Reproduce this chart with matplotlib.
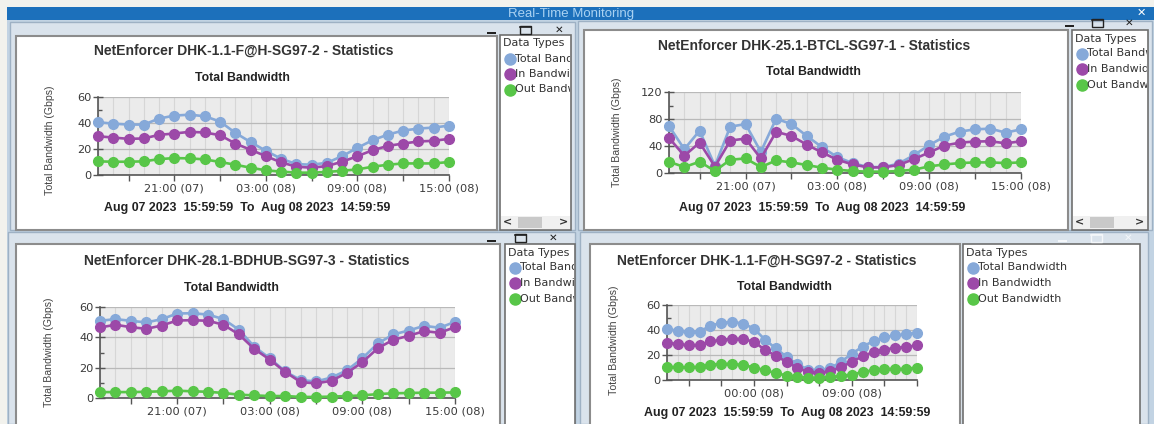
import numpy as np
import matplotlib
matplotlib.use('Agg')
import matplotlib.pyplot as plt
from matplotlib.patches import Rectangle
from matplotlib.transforms import Bbox
from matplotlib.ticker import MultipleLocator, FixedLocator

W, H = 1154, 424

# hourly samples, 16:00 (07) .. 15:00 (08)
hours = np.arange(24)

p1_total = [40.6, 39.5, 38.8, 38.8, 43.4, 45.7, 46.4, 45.2, 41.1, 32.4, 25.3, 18.6,
            12.5, 8.4, 7.9, 9.4, 14.5, 20.9, 26.8, 31.1, 34.2, 35.7, 36.5, 38.0]
p1_in = [29.8, 28.8, 27.8, 28.1, 30.9, 31.9, 33.2, 32.7, 30.6, 24.2, 19.4, 14.5,
         9.7, 6.4, 5.6, 6.9, 10.2, 14.5, 19.1, 22.4, 24.2, 25.8, 26.3, 27.8]
p1_out = [10.5, 10.2, 10.2, 10.5, 12.2, 13.0, 12.8, 12.0, 10.0, 7.9, 5.6, 3.6,
          2.6, 1.8, 1.8, 2.3, 3.3, 4.3, 6.4, 7.9, 8.9, 8.9, 8.9, 10.0]

p2_total = [69.6, 35.3, 62.7, 10.5, 68.6, 72.5, 31.4, 80.4, 72.5, 54.9, 38.2, 23.5,
            14.7, 8.8, 8.8, 13.7, 26.5, 41.2, 53.9, 61.3, 64.7, 65.7, 59.8, 64.7]
p2_in = [52, 25.5, 45, 9.5, 48, 51, 21.5, 61, 55, 42, 30.4, 19.6,
         12.7, 8.3, 8.3, 11.8, 20.6, 30.4, 40.7, 45, 46.6, 47, 44, 47]
p2_out = [16.7, 8.8, 16.7, 3, 19.6, 21.6, 8.8, 18.6, 15.7, 11.8, 7.8, 4.9,
          2.9, 2, 2, 2.9, 4.9, 9.8, 12.7, 14.7, 15.7, 15.7, 14.7, 15.7]

p3_total = [50.9, 52, 50.9, 49.8, 52, 55.7, 55.9, 55, 52, 45, 33.8, 26.2,
            17.5, 11.8, 10.9, 13.5, 18.3, 26.2, 36, 41.9, 44.5, 47.6, 46.3, 50.2]
p3_in = [46.5, 48.3, 46.7, 45.6, 47.8, 51.1, 51.3, 50.9, 48.3, 41.9, 32.3, 25.3,
         17.2, 10.5, 9.6, 11.4, 16.6, 23.6, 32.8, 38.4, 41, 44.1, 43, 46.7]
p3_out = [3.9, 3.9, 3.9, 4.1, 4.4, 4.8, 4.4, 4.1, 3.3, 2.2, 1.7, 1.3,
          1.3, 0.7, 0.7, 0.9, 1.3, 1.7, 2.6, 3.1, 3.3, 3.5, 3.5, 3.7]

series_names = ['Total Bandwidth', 'In Bandwidth', 'Out Bandwidth']
colors = ['#86a9d9', '#9c49a8', '#58c648']

ticks_6h = [5, 11, 17, 23]
labels_6h = ['21:00 (07)', '03:00 (08)', '09:00 (08)', '15:00 (08)']
ticks_9h = [8, 17]
labels_9h = ['00:00 (08)', '09:00 (08)']

date_text = 'Aug 07 2023  15:59:59  To  Aug 08 2023  14:59:59'

fig = plt.figure(figsize=(W / 100, H / 100), dpi=100)
bg = fig.add_axes([0, 0, 1, 1])
bg.set_xlim(0, W)
bg.set_ylim(H, 0)
bg.axis('off')


def rect(x0, y0, x1, y1, fc, ec='none', lw=0, z=0):
    bg.add_patch(Rectangle((x0, y0), x1 - x0, y1 - y0, fc=fc, ec=ec, lw=lw, zorder=z))


def clipbox(x0, y0, x1, y1):
    return Bbox.from_extents(x0, H - y1, x1, H - y0)


# desktop and main window
rect(0, 0, W, H, '#f2f2ed')
rect(7, 20, W, H, '#c2d3e3')
rect(7, 7, W, 20, '#1c70bb')
bg.text(571, 13.5, 'Real-Time Monitoring', ha='center', va='center', fontsize=9.5,
        color='#a9d2f2', family='Liberation Sans')
bg.text(1141, 13, '✕', ha='center', va='center', fontsize=8, color='white',
        fontweight='bold', family='DejaVu Sans')

# (window box, chart box, legend box, icon x positions, icon y, active)
panels = [
    ((10, 22, 575, 230), (16, 36, 497, 230), (500, 35, 571, 230), (491, 525, 559), 30, True),
    ((578, 21, 1152, 230), (584, 30, 1068, 230), (1072, 30, 1148, 230), (1069, 1097, 1129), 23, True),
    ((8, 232, 575, 424), (16, 244, 500, 426), (505, 244, 575, 426), (491, 520, 553), 238, True),
    ((580, 232, 1148, 424), (590, 244, 960, 426), (963, 244, 1140, 426), (1062, 1096, 1128), 238, False),
]

for (wb, cb, lb, icx, icy, active) in panels:
    rect(*wb, '#dae3ec', ec='#9eb1c4', lw=1.0, z=1)
    rect(*cb, 'white', ec='#8c8c8c', lw=1.5, z=2)
    rect(*lb, 'white', ec='#6f6f6f', lw=1.2, z=2)
    icol = '#222222' if active else '#f4f7fa'
    rect(icx[0] - 4.5, icy + 1.5, icx[0] + 4.5, icy + 3.5, icol, z=3)
    rect(icx[1] - 5.5, icy - 4, icx[1] + 5.5, icy + 4, 'none', ec=icol, lw=1.0, z=3)
    bg.plot([icx[1] - 5.5, icx[1] + 5.5], [icy - 3.5, icy - 3.5], color=icol, lw=1.2, zorder=3)
    bg.text(icx[2], icy, '✕', ha='center', va='center', fontsize=7.5, color=icol,
            fontweight='bold', zorder=3)
    # legend contents
    lx0, ly0, lx1, ly1 = lb
    cbx = clipbox(lx0 + 1, ly0, lx1 - 1, ly1)
    t = bg.text(lx0 + 3, ly0 + 8.5, 'Data Types', ha='left', va='center', fontsize=8,
                color='#333333', family='DejaVu Sans', zorder=4)
    t.set_clip_box(cbx)
    t.set_clip_on(True)
    for k, (name, c) in enumerate(zip(series_names, colors)):
        yy = ly0 + 23.5 + k * 15.5
        bg.plot([lx0 + 10], [yy], 'o', ms=8, color=c, mec=c, zorder=4)
        t = bg.text(lx0 + 15, yy, name, ha='left', va='center', fontsize=8,
                    color='#333333', family='DejaVu Sans', zorder=4)
        t.set_clip_box(cbx)
        t.set_clip_on(True)

# scrollbars in the two upper legends
for (x0, x1) in [(500, 571), (1072, 1148)]:
    rect(x0 + 1, 216, x1 - 1, 229, '#f0f0f0', z=3)
    rect(x0 + 18, 217, x0 + 42, 228, '#c9c9c9', z=3)
    bg.text(x0 + 7, 222.5, '<', ha='center', va='center', fontsize=8, color='#333',
            fontweight='bold', zorder=4)
    bg.text(x1 - 8, 222.5, '>', ha='center', va='center', fontsize=8, color='#333',
            fontweight='bold', zorder=4)


def add_chart(box, top, step, data, ticks, ticklabels, title, tpos, spos, dpos, ypos):
    x0, y0, x1, y1 = box
    ax = fig.add_axes([x0 / W, 1 - y1 / H, (x1 - x0) / W, (y1 - y0) / H])
    ax.set_facecolor('#ebebeb')
    for vals, c in zip(data, colors):
        ax.plot(hours, vals, '-o', color=c, lw=1.9, ms=7, mec=c, clip_on=False, zorder=3)
    ax.set_xlim(0, 23)
    ax.set_ylim(0, top)
    ax.yaxis.set_major_locator(MultipleLocator(step))
    ax.yaxis.set_minor_locator(MultipleLocator(step / 2))
    major_x = [2, 5, 8, 11, 14, 17, 20, 23]
    ax.xaxis.set_major_locator(FixedLocator(major_x))
    ax.xaxis.set_minor_locator(MultipleLocator(1))
    ax.set_xticklabels([ticklabels[ticks.index(i)] if i in ticks else '' for i in major_x])
    ax.grid(True, which='both', axis='x', color='#d6d6d6', lw=0.8)
    ax.grid(True, which='major', axis='y', color='#b9b9b9', lw=0.9)
    ax.set_axisbelow(True)
    for s in ['top', 'right']:
        ax.spines[s].set_visible(False)
    for s in ['left', 'bottom']:
        ax.spines[s].set_color('#555555')
        ax.spines[s].set_linewidth(1.2)
    ax.tick_params(axis='x', which='major', direction='out', length=4, width=1,
                   color='#555555', labelsize=8.2, labelcolor='#3a3a3a', pad=2)
    ax.tick_params(axis='x', which='minor', length=0)
    ax.tick_params(axis='y', which='major', direction='inout', length=7, width=1,
                   color='#555555', labelsize=8.2, labelcolor='#3a3a3a', pad=1)
    ax.tick_params(axis='y', which='minor', direction='in', length=3, width=1,
                   color='#555555')
    for lab in ax.get_xticklabels() + ax.get_yticklabels():
        lab.set_family('DejaVu Sans')
    bg.text(*tpos, title, ha='center', va='center', fontsize=10, fontweight='bold',
            color='#333333', family='Liberation Sans', zorder=4)
    bg.text(*spos, 'Total Bandwidth', ha='center', va='center', fontsize=8.8,
            fontweight='bold', color='#222222', family='Liberation Sans', zorder=4)
    if dpos is not None:
        bg.text(*dpos, date_text, ha='center', va='center', fontsize=8.9,
                fontweight='bold', color='#222222', family='Liberation Sans', zorder=4)
    bg.text(*ypos, 'Total Bandwidth (Gbps)', ha='center', va='center', rotation=90,
            fontsize=7.6, color='#444444', family='Liberation Sans', zorder=4)
    return ax


add_chart((98, 97, 449, 175), 60, 20, [p1_total, p1_in, p1_out], ticks_6h, labels_6h,
          'NetEnforcer DHK-1.1-F@H-SG97-2 - Statistics', (244, 51), (242, 78),
          (247, 208), (50, 140))
add_chart((669, 92, 1021, 173), 120, 40, [p2_total, p2_in, p2_out], ticks_6h, labels_6h,
          'NetEnforcer DHK-25.1-BTCL-SG97-1 - Statistics', (814, 46), (813, 72),
          (822, 208), (617, 132))
add_chart((100, 307, 455, 398), 60, 20, [p3_total, p3_in, p3_out], ticks_6h, labels_6h,
          'NetEnforcer DHK-28.1-BDHUB-SG97-3 - Statistics', (247, 261), (231, 288),
          None, (49, 352))
add_chart((667, 305, 917, 380), 60, 20, [p1_total, p1_in, p1_out], ticks_9h, labels_9h,
          'NetEnforcer DHK-1.1-F@H-SG97-2 - Statistics', (767, 261), (784, 287),
          (787, 413), (614, 340))

fig.savefig('out.png', dpi=100)
